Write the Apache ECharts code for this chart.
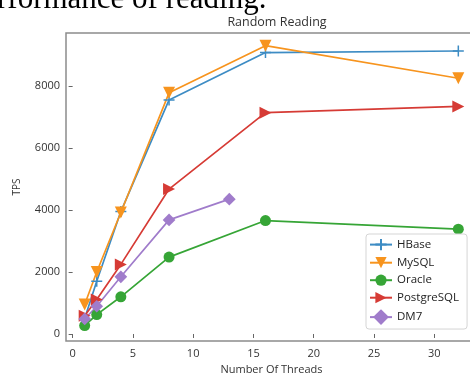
<!DOCTYPE html>
<html>
<head>
<meta charset="utf-8">
<script src="https://cdn.jsdelivr.net/npm/echarts@6/dist/echarts.min.js"></script>
<style>html,body{margin:0;padding:0;background:#fff;}#c{width:470px;height:374px;}</style>
</head>
<body>
<div id="c"></div>
<script>
const threads = [1, 2, 4, 8, 16, 32];
const dm7Threads = [1, 2, 4, 8, 13];
const hbase = [500, 1700, 3950, 7550, 9080, 9130];
const mysql = [950, 2000, 3920, 7780, 9300, 8250];
const oracle = [270, 625, 1200, 2480, 3660, 3380];
const postgresql = [590, 1110, 2245, 4675, 7140, 7340];
const dm7 = [485, 895, 1845, 3680, 4350];
const xTicks = [0, 5, 10, 15, 20, 25, 30];
const yTicks = [0, 2000, 4000, 6000, 8000];

const pair = (xs, ys) => xs.map((x, i) => [x, ys[i]]);
const FONT = '"Open Sans", "Noto Sans", sans-serif';
const plusPath = 'path://M5,0 L5,10 M0,5 L10,5';

const mk = (name, xs, ys, color, symbol, size, rot) => ({
  name, type: 'line', data: pair(xs, ys),
  symbol, symbolSize: size, symbolRotate: rot || 0,
  showSymbol: true,
  lineStyle: { color, width: 1.7 },
  itemStyle: { color, borderColor: color, borderWidth: symbol === plusPath ? 1.5 : 0 },
  emphasis: { disabled: true },
  animation: false
});

const chart = echarts.init(document.getElementById('c'), null, { renderer: 'canvas' });
chart.setOption({
  animation: false,
  backgroundColor: '#fff',
  title: {
    text: 'Random Reading', left: 272, top: 11, textAlign: 'center',
    textStyle: { fontFamily: FONT, fontSize: 12.5, fontWeight: 'normal', color: '#333' }
  },
  graphic: [{
    type: 'text', left: -34, top: -16,
    style: { text: 'Performance of reading.', font: '31px "Liberation Serif"', fill: '#000' }
  }],
  grid: { left: 66, top: 33, right: -7, bottom: 33, show: true, borderColor: '#8c8c8c', borderWidth: 1.5, containLabel: false, outerBoundsMode: 'none' },
  legend: {
    orient: 'vertical', left: 366, top: 234,
    padding: [4, 8, 4, 3], itemGap: 5.5, itemWidth: 22, itemHeight: 14,
    backgroundColor: '#fff', borderColor: '#d5d5d5', borderWidth: 1, borderRadius: 3,
    textStyle: { fontFamily: FONT, fontSize: 11.5, color: '#222' },
    data: ['HBase', 'MySQL', 'Oracle', 'PostgreSQL', 'DM7']
  },
  xAxis: {
    type: 'value', min: -0.55, max: 33.55,
    name: 'Number Of Threads', nameLocation: 'middle', nameGap: 21,
    nameTextStyle: { fontFamily: FONT, fontSize: 11, color: '#333' },
    axisLine: { show: false },
    axisTick: { show: true, customValues: xTicks, length: 4, lineStyle: { color: '#666' } },
    axisLabel: { customValues: xTicks, fontFamily: FONT, fontSize: 11, color: '#333', margin: 7 },
    splitLine: { show: false }
  },
  yAxis: {
    type: 'value', min: -226, max: 9710,
    name: 'TPS', nameLocation: 'middle', nameGap: 44,
    nameTextStyle: { fontFamily: FONT, fontSize: 10, color: '#333' },
    axisLine: { show: false },
    axisTick: { show: true, customValues: yTicks, length: 4, lineStyle: { color: '#666' } },
    axisLabel: { customValues: yTicks, formatter: v => String(v), fontFamily: FONT, fontSize: 11, color: '#333', margin: 6 },
    splitLine: { show: false }
  },
  series: [
    mk('HBase', threads, hbase, '#3d8cc4', plusPath, 11),
    mk('MySQL', threads, mysql, '#f7941e', 'triangle', 12, 180),
    mk('Oracle', threads, oracle, '#36a536', 'circle', 11),
    mk('PostgreSQL', threads, postgresql, '#d63b35', 'triangle', 12, -90),
    mk('DM7', dm7Threads, dm7, '#a07ccb', 'rect', 9, 45)
  ]
});
</script>
</body>
</html>
